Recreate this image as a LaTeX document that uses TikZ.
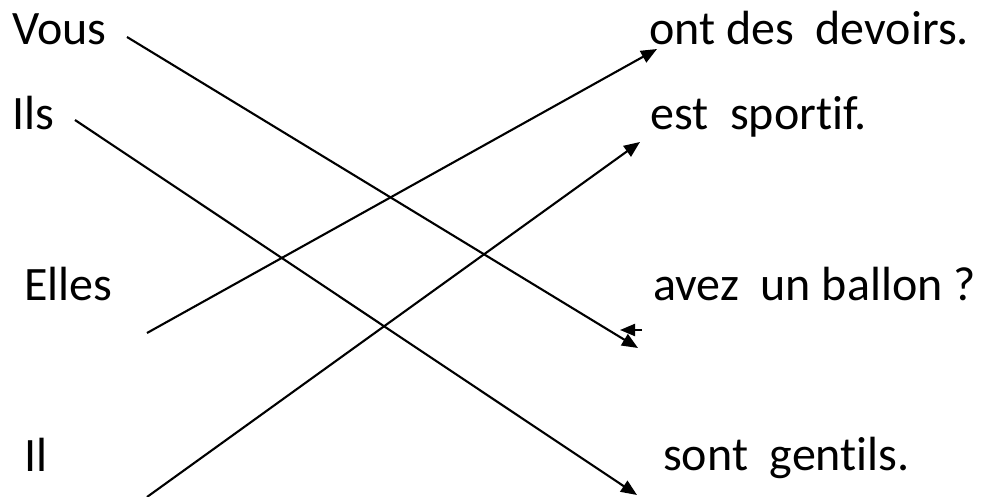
\documentclass[tikz,border=0pt]{standalone}
\usepackage{fontspec}
\setmainfont{Carlito}[Ligatures=NoCommon]
\usetikzlibrary{arrows.meta}
\begin{document}
\begin{tikzpicture}[x=1pt,y=-1pt,
  lbl/.style={anchor=base west,inner sep=0pt,font=\fontsize{48}{52}\selectfont},
  link/.style={line width=2.1pt,-{Triangle[length=16pt,width=13pt]}},
  plain/.style={line width=2.1pt}]
\useasboundingbox (0,0) rectangle (982,497);
% left labels
\node[lbl] (vous) at (12,45) {Vous};
\node[lbl] (ils) at (12,130) {Ils};
\node[lbl] (elles) at (24,300) {Elles};
\node[lbl] (il) at (24,471) {Il};
% right labels
\node[lbl] (devoirs) at (649,45) {ont des\ \ devoirs.};
\node[lbl] (sportif) at (650,130) {est\ \ sportif.};
\node[lbl] (ballon) at (653,300) {avez\ \ un ballon ?};
\node[lbl] (gentils) at (663,470) {sont\ \ gentils.};
% connector ends
\coordinate (s1) at (127,37);  \coordinate (e1) at (638,348);
\coordinate (s2) at (75,120);  \coordinate (e2) at (637,495);
\coordinate (s3) at (147,333); \coordinate (e3) at (657,49);
\coordinate (s4) at (147,497); \coordinate (e4) at (640,142);
\coordinate (m1) at (642,330); \coordinate (m2) at (620,330);
\draw[link] (s1) -- (e1);
\draw[link] (s2) -- (e2);
\draw[link] (s3) -- (e3);
\draw[link] (s4) -- (e4);
\draw[plain,-{Triangle[length=15pt,width=12pt]}] (m1) -- (m2);
\end{tikzpicture}
\end{document}
